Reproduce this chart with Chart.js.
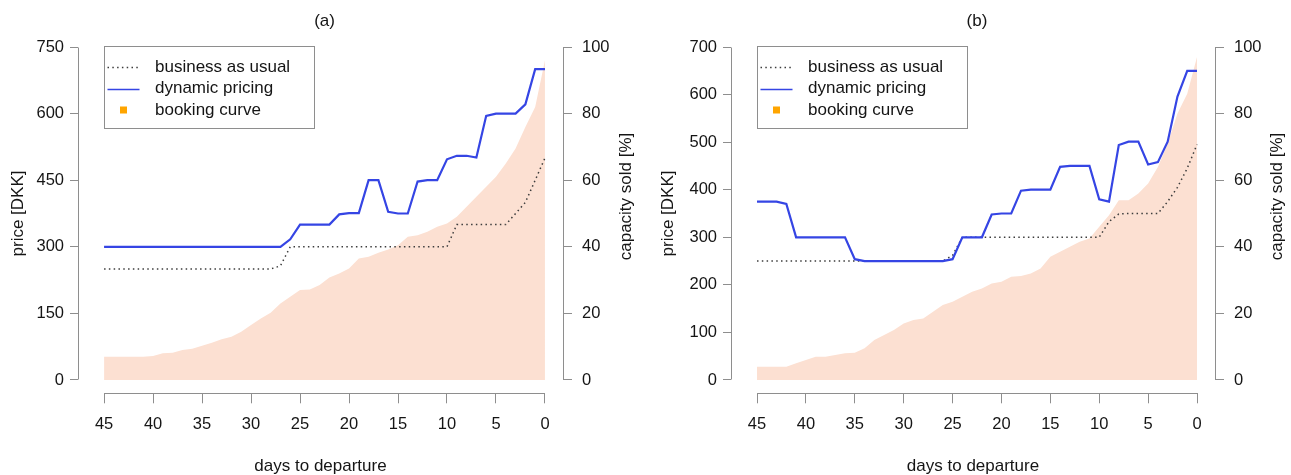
<!DOCTYPE html>
<html>
<head>
<meta charset="utf-8">
<script src="https://cdn.jsdelivr.net/npm/chart.js@4.4.1/dist/chart.umd.min.js"></script>
<style>
  html, body { margin: 0; padding: 0; background: #ffffff; }
  #wrap { position: relative; width: 1291px; height: 475px; overflow: hidden; }
  canvas { position: absolute; top: 0; }
</style>
</head>
<body>
<div id="wrap">
  <canvas id="panelA" width="645" height="475" style="left:0px"></canvas>
  <canvas id="panelB" width="646" height="475" style="left:645px"></canvas>
</div>
<script>
// Days to departure, one observation per day
const days = [45, 44, 43, 42, 41, 40, 39, 38, 37, 36, 35, 34, 33, 32, 31, 30, 29, 28, 27, 26, 25, 24, 23,
              22, 21, 20, 19, 18, 17, 16, 15, 14, 13, 12, 11, 10, 9, 8, 7, 6, 5, 4, 3, 2, 1, 0];

// Tick labels
const dayTicks = [45, 40, 35, 30, 25, 20, 15, 10, 5, 0];
const priceTicksA = [0, 150, 300, 450, 600, 750];
const priceTicksB = [0, 100, 200, 300, 400, 500, 600, 700];
const capacityTicks = [0, 20, 40, 60, 80, 100];

// Panel (a): prices in DKK, booking curve in % of capacity sold
const usualA = [250, 250, 250, 250, 250, 250, 250, 250, 250, 250, 250, 250, 250, 250, 250, 250, 250, 250, 257, 300, 300, 300, 300,
                300, 300, 300, 300, 300, 300, 300, 300, 300, 300, 300, 300, 300, 350, 350, 350, 350, 350, 350, 375, 400, 450, 500];
const dynamicA = [300, 300, 300, 300, 300, 300, 300, 300, 300, 300, 300, 300, 300, 300, 300, 300, 300, 300, 300, 317, 350, 350, 350,
                  350, 373, 376, 376, 450, 450, 379, 375, 375, 447, 450, 450, 497, 505, 505, 501, 595, 600, 600, 600, 621, 700, 700];
const bookingA = [7, 7, 7, 7, 7, 7.2, 8, 8.2, 9, 9.4, 10.3, 11.2, 12.2, 13, 14.5, 16.5, 18.5, 20.2, 23, 25, 27, 27.2, 28.5,
                  30.8, 32, 33.5, 36.5, 37, 38.2, 39.2, 40.5, 43, 43.5, 44.5, 46, 47, 49, 52, 55, 58, 61, 65, 69.5, 76, 82, 96];

// Panel (b)
const usualB = [250, 250, 250, 250, 250, 250, 250, 250, 250, 250, 250, 250, 250, 250, 250, 250, 250, 250, 250, 250, 262, 300, 300,
                300, 300, 300, 300, 300, 300, 300, 300, 300, 300, 300, 300, 300, 333, 349, 350, 350, 350, 350, 375, 405, 445, 495];
const dynamicB = [375, 375, 375, 370, 300, 300, 300, 300, 300, 300, 254, 250, 250, 250, 250, 250, 250, 250, 250, 250, 254, 300, 300,
                  300, 348, 350, 350, 398, 400, 400, 400, 448, 450, 450, 450, 380, 375, 494, 501, 501, 453, 458, 501, 596, 650, 650];
const bookingB = [4, 4, 4, 4, 5, 6, 7, 7, 7.5, 8, 8.2, 9.5, 12, 13.5, 15, 17, 18, 18.5, 20.5, 22.5, 23.5, 25, 26.5,
                  27.5, 29, 29.5, 31, 31.2, 32, 33.5, 37, 38.5, 40, 41.5, 42.5, 46, 49.5, 54, 54, 56, 59, 64, 71, 80, 86, 97];

// Texts
const seriesLabels = ['business as usual', 'dynamic pricing', 'booking curve'];
const panelTitles = ['(a)', '(b)'];
const xTitle = 'days to departure';
const yTitle = 'price [DKK]';
const y2Title = 'capacity sold [%]';

// Styling
const TXT = '#151515';
const AXIS = '#8e8e8e';
const BLUE = '#3545e4';
const DOTS = '#3c3c3c';
const PEACH = '#fce0d2';
const MARKER = '#ffa500';
const FONT = "'Liberation Sans', Arial, Helvetica, sans-serif";

Chart.defaults.font.family = FONT;
Chart.defaults.color = TXT;

// Axis lines running from first to last tick, panel title, right axis title and boxed legend
const decor = {
  id: 'decor',
  afterDraw(chart, args, opts) {
    const { ctx, chartArea: ca, scales } = chart;
    const { x, y, y1 } = scales;
    const al = v => Math.round(v - 0.5) + 0.5;
    ctx.save();
    ctx.strokeStyle = AXIS;
    ctx.lineWidth = 1;
    ctx.beginPath();
    const xp = x.ticks.map(t => x.getPixelForValue(t.value));
    ctx.moveTo(al(Math.min(...xp)), al(ca.bottom));
    ctx.lineTo(al(Math.max(...xp)), al(ca.bottom));
    const yp = y.ticks.map(t => y.getPixelForValue(t.value));
    ctx.moveTo(al(ca.left), al(Math.min(...yp)));
    ctx.lineTo(al(ca.left), al(Math.max(...yp)));
    const y1p = y1.ticks.map(t => y1.getPixelForValue(t.value));
    ctx.moveTo(al(ca.right), al(Math.min(...y1p)));
    ctx.lineTo(al(ca.right), al(Math.max(...y1p)));
    ctx.stroke();

    // panel title, centred over the day range
    ctx.fillStyle = TXT;
    ctx.font = '17px ' + FONT;
    ctx.textAlign = 'center';
    ctx.textBaseline = 'middle';
    const first = x.ticks[0].value, last = x.ticks[x.ticks.length - 1].value;
    ctx.fillText(opts.title, x.getPixelForValue((first + last) / 2), 21);

    // right axis title, reading upwards
    ctx.save();
    ctx.translate(ca.right + opts.rightTitleOffset, (ca.top + ca.bottom) / 2 - 17);
    ctx.rotate(-Math.PI / 2);
    ctx.fillText(y2Title, 0, 0);
    ctx.restore();

    // legend box anchored at (first day, top price tick)
    const lx = Math.round(x.getPixelForValue(first)) + 0.5;
    const ly = Math.round(y.getPixelForValue(y.ticks[y.ticks.length - 1].value)) - 0.5;
    const bw = 210, bh = 82;
    ctx.strokeStyle = AXIS;
    ctx.lineWidth = 1;
    ctx.strokeRect(lx, ly, bw, bh);
    ctx.textAlign = 'left';
    ctx.textBaseline = 'middle';
    const rows = [20.5, 42, 63.5];
    chart.data.datasets.forEach((ds, i) => {
      const ry = ly + rows[i];
      if (ds.fill) {
        ctx.fillStyle = MARKER;
        ctx.fillRect(lx + 15.5, ry - 3.5, 7, 7);
      } else {
        ctx.save();
        ctx.strokeStyle = ds.borderColor;
        ctx.lineWidth = ds.borderDash ? 1.3 : 1.6;
        ctx.setLineDash(ds.borderDash || []);
        ctx.beginPath();
        ctx.moveTo(lx + 3, Math.round(ry) + 0.5);
        ctx.lineTo(lx + 35, Math.round(ry) + 0.5);
        ctx.stroke();
        ctx.restore();
      }
      ctx.fillStyle = TXT;
      ctx.fillText(ds.label, lx + 50.5, ry);
    });
    ctx.restore();
  }
};

function buildPanel(canvasId, cfg) {
  const toPoints = vals => days.map((d, i) => ({ x: d, y: vals[i] }));
  return new Chart(document.getElementById(canvasId), {
    type: 'line',
    data: {
      datasets: [
        { label: seriesLabels[0], data: toPoints(cfg.usual), yAxisID: 'y', borderColor: DOTS,
          borderWidth: 1.5, borderDash: [1.5, 3.3], pointRadius: 0, fill: false, tension: 0, order: 2 },
        { label: seriesLabels[1], data: toPoints(cfg.dynamic), yAxisID: 'y', borderColor: BLUE,
          borderWidth: 2.2, pointRadius: 0, fill: false, tension: 0, order: 1 },
        { label: seriesLabels[2], data: toPoints(cfg.booking), yAxisID: 'y1', borderColor: 'rgba(0,0,0,0)',
          backgroundColor: PEACH, borderWidth: 1, pointRadius: 0, fill: 'origin', tension: 0, order: 3 }
      ]
    },
    options: {
      responsive: false,
      animation: false,
      devicePixelRatio: 1,
      layout: { padding: { top: 33.7, left: 0, right: 0, bottom: 0 }, autoPadding: false },
      plugins: {
        legend: { display: false },
        tooltip: { enabled: false },
        decor: { title: cfg.title, rightTitleOffset: cfg.rightTitleOffset }
      },
      scales: {
        x: {
          type: 'linear', reverse: true, min: -1.84, max: 47.66,
          afterBuildTicks: s => { s.ticks = dayTicks.map(v => ({ value: v })); },
          afterFit: s => { s.height = 81.7; },
          grid: { drawOnChartArea: false, tickLength: 10, color: AXIS, lineWidth: 1 },
          border: { display: false },
          ticks: { padding: 11, color: TXT, font: { size: 16.5 }, maxRotation: 0, autoSkip: false },
          title: { display: true, text: xTitle, color: TXT, font: { size: 17, lineHeight: 1 },
                   padding: { top: 0, bottom: 0.5 } }
        },
        y: {
          type: 'linear', position: 'left', min: cfg.yMin, max: cfg.yMax,
          afterBuildTicks: s => { s.ticks = cfg.priceTicks.map(v => ({ value: v })); },
          afterFit: s => { s.width = cfg.leftWidth; },
          grid: { drawOnChartArea: false, tickLength: 8, color: AXIS, lineWidth: 1 },
          border: { display: false },
          ticks: { padding: 6, color: TXT, font: { size: 16.5 } },
          title: { display: true, text: yTitle, color: TXT, font: { size: 17, lineHeight: 1 },
                   padding: { top: cfg.yTitlePad, bottom: 0 } }
        },
        y1: {
          type: 'linear', position: 'right', min: -4, max: 104,
          afterBuildTicks: s => { s.ticks = capacityTicks.map(v => ({ value: v })); },
          afterFit: s => { s.width = cfg.rightWidth; },
          grid: { drawOnChartArea: false, tickLength: 9, color: AXIS, lineWidth: 1 },
          border: { display: false },
          ticks: { padding: 10, color: TXT, font: { size: 16.5 } }
        }
      }
    },
    plugins: [decor]
  });
}

buildPanel('panelA', {
  title: panelTitles[0], usual: usualA, dynamic: dynamicA, booking: bookingA,
  priceTicks: priceTicksA, yMin: -30, yMax: 780,
  leftWidth: 78, rightWidth: 82, yTitlePad: 9.5, rightTitleOffset: 63.5
});
buildPanel('panelB', {
  title: panelTitles[1], usual: usualB, dynamic: dynamicB, booking: bookingB,
  priceTicks: priceTicksB, yMin: -28, yMax: 728,
  leftWidth: 86, rightWidth: 76, yTitlePad: 14.5, rightTitleOffset: 62
});
</script>
</body>
</html>
